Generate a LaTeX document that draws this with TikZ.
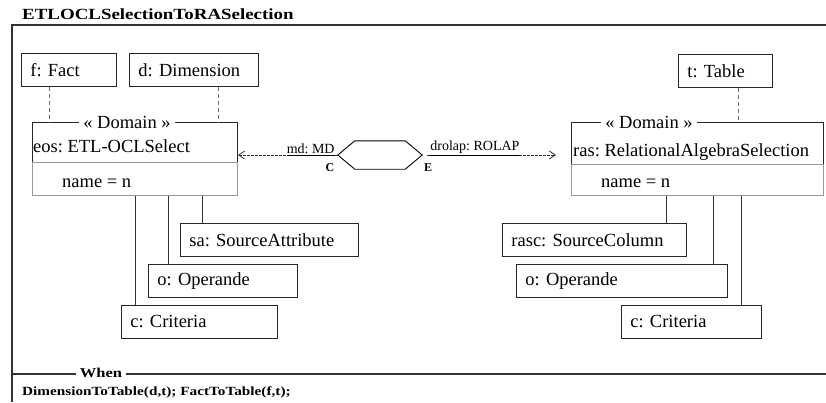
\documentclass[tikz,border=0pt]{standalone}
\usepackage{fontspec}
\setmainfont{Liberation Serif}
\usepackage{graphicx}
\usetikzlibrary{arrows.meta,calc}
\frenchspacing

\newcommand{\objfont}{\fontsize{18.5}{22}\selectfont}
\newcommand{\lblfont}{\fontsize{14}{16}\selectfont}
\newcommand{\widebf}[2]{\scalebox{1.22}[1]{\fontsize{#1}{#1}\selectfont\bfseries #2}}

\tikzset{
  obj/.style={draw=black!85, line width=0.9pt, anchor=north west, inner xsep=9pt,
    inner ysep=0pt, minimum height=33pt, align=left, font=\objfont},
  domainbox/.style={draw=black!40, line width=0.9pt, anchor=north west, inner sep=0pt},
  stereo/.style={fill=white, inner xsep=4pt, inner ysep=1pt, font=\objfont},
  txt/.style={anchor=base west, inner sep=0pt, font=\objfont},
  tie/.style={draw=black!60, line width=0.9pt, dash pattern=on 4pt off 3pt},
  link/.style={draw=black!80, line width=0.9pt},
  flow/.style={draw=black!80, line width=0.8pt, dash pattern=on 2.5pt off 1.5pt,
    -{Straight Barb[length=6pt,width=8pt]}},
  lbl/.style={inner sep=0pt, font=\lblfont},
  port/.style={inner sep=0pt, font=\fontsize{12}{12}\selectfont\bfseries},
  frame/.style={draw=black!80, line width=1.1pt}
}

\begin{document}
\begin{tikzpicture}[x=1pt, y=-1pt]
  \useasboundingbox (0,0) rectangle (826,402);

  % rule frame
  \node[anchor=base west, inner sep=0pt] (title) at (22,19.5) {\widebf{15.5}{ETLOCLSelectionToRASelection}};
  \draw[frame] (826,25) -- (12,25) -- (12,402);
  \draw[frame] (12,374) -- (826,374);
  \node[fill=white, inner xsep=4pt, inner ysep=0pt] (when) at (101,373) {\widebf{13.5}{When}};
  \node[anchor=base west, inner sep=0pt] (cond) at (22,395) {\widebf{12.5}{DimensionToTable(d,t); FactToTable(f,t);}};

  % left domain
  \node[obj, text width=77pt] (fact) at (21,53) {f: Fact};
  \node[obj, text width=111pt] (dim) at (129,53) {d: Dimension};
  \node[domainbox, minimum width=205pt, minimum height=73pt] (eos) at (32,122) {};
  \draw[black!85, line width=0.9pt] (eos.west |- 0,162) -- (eos.north west) -- (eos.north east) -- (eos.east |- 0,162);
  \draw[black!40, line width=0.9pt] (eos.west |- 0,162) -- (eos.east |- 0,162);
  \node[stereo] (eosst) at (eos.north -| 127,0) {« Domain »};
  \node[txt] (eosname) at (33,152) {eos: ETL-OCLSelect};
  \node[txt] (eosattr) at (62,187) {name = n};
  \node[obj, text width=160pt] (sa) at (180,223) {sa: SourceAttribute};
  \node[obj, text width=131pt] (opl) at (148,264) {o: Operande};
  \node[obj, text width=138pt] (crl) at (121,305) {c: Criteria};

  \draw[tie] (fact.south -| 49,0) -- (eos.north -| 49,0);
  \draw[tie] (dim.south -| 218,0) -- (eos.north -| 218,0);
  \draw[link] (eos.south -| 202,0) -- (sa.north -| 202,0);
  \draw[link] (eos.south -| 168,0) -- (opl.north -| 168,0);
  \draw[link] (eos.south -| 135,0) -- (crl.north -| 135,0);

  % relation
  \node[minimum width=84pt, minimum height=28pt, inner sep=0pt] (hex) at (380,155) {};
  \draw[line width=0.9pt] (hex.west) -- ($(hex.north west)+(17,0)$) -- ($(hex.north east)+(-17,0)$)
    -- (hex.east) -- ($(hex.south east)+(-17,0)$) -- ($(hex.south west)+(17,0)$) -- cycle;
  \node[port] (cport) at (330,168) {C};
  \node[port] (eport) at (428,168) {E};

  % right domain
  \node[obj, text width=76pt] (tab) at (678,54) {t: Table};
  \node[domainbox, minimum width=252pt, minimum height=73pt] (ras) at (571,122) {};
  \draw[black!85, line width=0.9pt] (ras.west |- 0,164) -- (ras.north west) -- (ras.north east) -- (ras.east |- 0,164);
  \draw[black!40, line width=0.9pt] (ras.west |- 0,164) -- (ras.east |- 0,164);
  \node[stereo] (rasst) at (ras.north -| 649,0) {« Domain »};
  \node[txt] (rasname) at (573,156) {ras: RelationalAlgebraSelection};
  \node[txt] (rasattr) at (601,187) {name = n};
  \node[obj, text width=166pt] (rasc) at (502,223) {rasc: SourceColumn};
  \node[obj, text width=193pt] (opr) at (516,264) {o: Operande};
  \node[obj, text width=122pt] (crr) at (621,305) {c: Criteria};

  \draw[tie] (tab.south -| 738,0) -- (ras.north -| 738,0);
  \draw[link] (ras.south -| 666,0) -- (rasc.north -| 666,0);
  \draw[link] (ras.south -| 713,0) -- (opr.north -| 713,0);
  \draw[link] (ras.south -| 741,0) -- (crr.north -| 741,0);

  % bindings
  \draw[flow] (hex.west) -- (eos.east |- hex.west);
  \draw[flow] ($(hex.east)+(5,0)$) -- ($(ras.west |- hex.east)+(-15,0)$);
  \node[lbl, anchor=south east] (mdlbl) at ($(hex.west)+(-3,1)$) {\underline{md: MD}};
  \node[lbl, anchor=south west] (drlbl) at ($(hex.east)+(8,1)$) {\underline{drolap: ROLAP}};
\end{tikzpicture}
\end{document}
